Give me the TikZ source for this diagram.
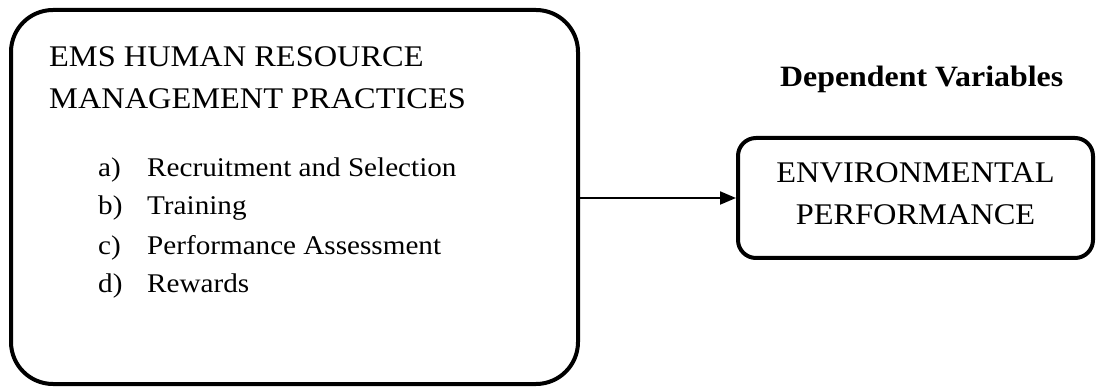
\documentclass[tikz,border=0pt]{standalone}
\usepackage{fontspec}
\setmainfont[FakeStretch=1.08]{Liberation Serif}
\usetikzlibrary{arrows.meta}
\begin{document}
\begin{tikzpicture}[x=1pt,y=-1pt,
  bigbox/.style={draw,line width=4pt,rounded corners=42pt,minimum width=567pt,minimum height=374pt,inner sep=0pt},
  smallbox/.style={draw,line width=4pt,rounded corners=18pt,minimum width=355pt,minimum height=120pt,inner sep=0pt},
  boxtext/.style={inner sep=0pt,align=center,font=\fontsize{30}{42}\selectfont},
  title/.style={anchor=base west,inner sep=0pt,font=\fontsize{30}{36}\selectfont},
  item/.style={anchor=base west,inner sep=0pt,font=\fontsize{27}{32}\selectfont},
  conn/.style={line width=2pt,-{Triangle[length=16pt,width=13pt]}}
]
\useasboundingbox (0,0) rectangle (1098,387);
\node[bigbox] (L) at (294.5,197) {};
\node[smallbox] (R) at (915.5,198) {};
\node[boxtext] (Rt) at ([yshift=4pt]R.center) {ENVIRONMENTAL\\PERFORMANCE};
\node[title] (t1) at (49,67) {EMS HUMAN RESOURCE};
\node[title] (t2) at (49,109) {MANAGEMENT PRACTICES};
\node[item] (ia) at (98,177) {a)};
\node[item] (ib) at (98,215) {b)};
\node[item] (ic) at (98,255) {c)};
\node[item] (id) at (98,293) {d)};
\node[item] (ta) at (147,177) {Recruitment and Selection};
\node[item] (tb) at (147,215) {Training};
\node[item] (tc) at (147,255) {Performance Assessment};
\node[item] (td) at (147,293) {Rewards};
\node[anchor=base west,inner sep=0pt,font=\fontsize{29.5}{34}\selectfont\bfseries] (dv) at (780,87) {Dependent Variables};
\coordinate (a) at (0,198);
\draw[conn] (L.east |- a) -- (R.west |- a);
\end{tikzpicture}
\end{document}
